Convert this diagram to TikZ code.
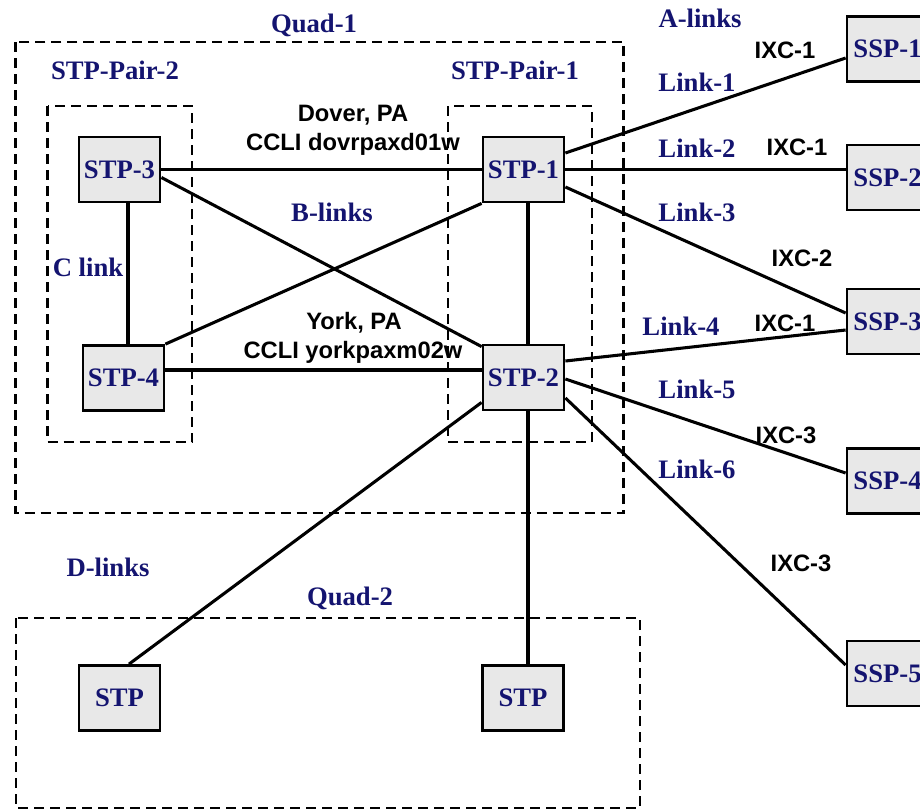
\documentclass[tikz,border=0pt]{standalone}
\usepackage{fontspec}
\setmainfont{Liberation Serif}
\newfontfamily\hv{Liberation Sans}
\usetikzlibrary{calc}
\definecolor{navyb}{RGB}{20,20,112}
\definecolor{boxgray}{RGB}{232,232,232}
\tikzset{
  nodebox/.style={draw=black, line width=2.1pt, fill=boxgray, minimum width=60.75pt, minimum height=48.75pt, inner sep=0pt, text=navyb, font=\bfseries\fontsize{20}{22}\selectfont},
  link/.style={line width=2.3pt},
  group/.style={draw=black, line width=1.7pt, dash pattern=on 7.5pt off 4.5pt},
  bluelbl/.style={text=navyb, font=\bfseries\fontsize{20}{22}\selectfont, inner sep=0pt},
  blklbl/.style={text=black, font=\hv\bfseries\fontsize{17.8}{20}\selectfont, inner sep=0pt},
}
\begin{document}
\begin{tikzpicture}[x=0.75pt,y=-0.75pt]
\clip (0,0) rectangle (920,810);
\fill[white] (0,0) rectangle (920,810);
% group boxes
\draw[group] (15.5,42) rectangle (623.5,513);
\draw[group] (47.5,106) rectangle (192,442);
\draw[group] (448,106) rectangle (592,442);
\draw[group] (16,618) rectangle (640,808);
% nodes
\node[nodebox] (s3) at (119.5,169.5) {STP-3};
\node[nodebox] (s4) at (123.5,378) {STP-4};
\node[nodebox] (s1) at (523.5,169.5) {STP-1};
\node[nodebox] (s2) at (523.5,377.5) {STP-2};
\node[nodebox] (p1) at (887.5,49) {SSP-1};
\node[nodebox] (p2) at (887.5,177.5) {SSP-2};
\node[nodebox] (p3) at (887.5,321.5) {SSP-3};
\node[nodebox] (p4) at (887.5,481) {SSP-4};
\node[nodebox] (p5) at (887.5,673.5) {SSP-5};
\node[nodebox] (b1) at (119.5,698) {STP};
\node[nodebox] (b2) at (523,698) {STP};
% connectors
\draw[link] (s3.east) -- (s1.west);
\draw[link] ($(s3.east)+(0,8)$) -- ($(s2.north west)+(0,3)$);
\draw[link] (s4.north east) -- (s1.south west);
\draw[link] ($(s4.east)+(0,-8)$) -- ($(s2.west)+(0,-7.5)$);
\draw[link] ($(s3.south)+(8.5,0)$) -- ($(s4.north)+(4.5,0)$);
\draw[link] ($(s1.south)+(4.5,0)$) -- ($(s2.north)+(4.5,0)$);
\draw[link] ($(s2.south)+(4.5,0)$) -- ($(b2.north)+(5,0)$);
\draw[link] ($(s2.south west)+(0,-9)$) -- ($(b1.north)+(9.5,0)$);
\draw[link] ($(s1.east)+(0,-16.5)$) -- ($(p1.west)+(0,9)$);
\draw[link] (s1.east) -- ($(p2.west)+(0,-8)$);
\draw[link] ($(s1.east)+(0,17.5)$) -- ($(p3.west)+(0,-8.5)$);
\draw[link] ($(s2.east)+(0,-16.5)$) -- ($(p3.west)+(0,8.5)$);
\draw[link] ($(s2.east)+(0,1.5)$) -- ($(p4.west)+(0,-8)$);
\draw[link] ($(s2.east)+(0,20.5)$) -- ($(p5.west)+(0,-8.5)$);
% blue labels
\node[bluelbl] (lq1) at (314,25) {Quad-1};
\node[bluelbl] (lsp2) at (115,70) {STP-Pair-2};
\node[bluelbl] (lsp1) at (515,70) {STP-Pair-1};
\node[bluelbl] (lal) at (700,18) {A-links};
\node[bluelbl] (ll1) at (697,82) {Link-1};
\node[bluelbl] (ll2) at (697,148) {Link-2};
\node[bluelbl] (ll3) at (697,212) {Link-3};
\node[bluelbl] (ll4) at (681,326) {Link-4};
\node[bluelbl] (ll5) at (697,389) {Link-5};
\node[bluelbl] (ll6) at (697,469) {Link-6};
\node[bluelbl] (lbl) at (332,212) {B-links};
\node[bluelbl] (lcl) at (88,267) {C link};
\node[bluelbl] (ldl) at (108,567) {D-links};
\node[bluelbl] (lq2) at (350,598) {Quad-2};
% black labels
\node[blklbl] (ld1) at (353,115) {Dover, PA};
\node[blklbl] (ld2) at (353,144) {CCLI dovrpaxd01w};
\node[blklbl] (ly1) at (354,323) {York, PA};
\node[blklbl] (ly2) at (353,352) {CCLI yorkpaxm02w};
\node[blklbl] (ix1) at (785,50) {IXC-1};
\node[blklbl] (ix2) at (797,147) {IXC-1};
\node[blklbl] (ix3) at (802,258) {IXC-2};
\node[blklbl] (ix4) at (785,323) {IXC-1};
\node[blklbl] (ix5) at (786,435) {IXC-3};
\node[blklbl] (ix6) at (801,563) {IXC-3};
\end{tikzpicture}
\end{document}
